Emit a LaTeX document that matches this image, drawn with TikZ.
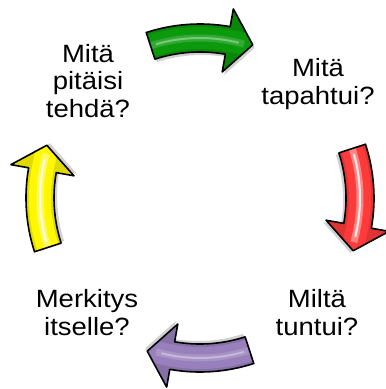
\documentclass[tikz,border=0pt]{standalone}
\usepackage{fontspec}
\setmainfont{Liberation Sans}
\newfontfamily\labelfont[FakeStretch=1.1]{Liberation Sans}
\begin{document}
\begin{tikzpicture}[x=1pt,y=1pt,
  label/.style={align=center, inner sep=0pt, anchor=base,
    font=\labelfont\fontsize{25}{27.5}\selectfont},
  outline/.style={draw=black, line width=1.6pt, line join=round}]
\definecolor{cgreen}{RGB}{12,154,12}
\definecolor{cred}{RGB}{255,58,58}
\definecolor{cpurple}{RGB}{152,128,188}
\definecolor{cyellow}{RGB}{255,248,0}

\useasboundingbox (0,0) rectangle (386,-389);
\clip (0,0) rectangle (386,-389);

% one glossy curved arrow of the cycle:
% #1 = direction angle, #2 = colour, #3 = strength of the highlight stripe
\newcommand\cyclearrow[3]{%
  \begin{scope}[shift={(200,-198)}, rotate=#1]
    \def\arrowpath{(108:174) arc[start angle=108,end angle=80,radius=174]
      -- (80:192) -- (71:162) -- (80:128) -- (80:146)
      arc[start angle=80,end angle=108,radius=146] -- cycle}
    % soft shadow
    \fill[black, opacity=0.18, shift={(2,-3)}] \arrowpath;
    \begin{scope}
      \clip \arrowpath;
      \fill[#2!88!black] \arrowpath;
      \draw[#2, line width=22pt] (112:160) arc[start angle=112,end angle=66,radius=160];
      \draw[white, opacity=#3*0.45, line width=7pt] (110:160) arc[start angle=110,end angle=74,radius=160];
      \draw[white, opacity=#3, line width=2pt] (106:160) arc[start angle=106,end angle=76,radius=160];
    \end{scope}
    \draw[outline] \arrowpath;
  \end{scope}}

\cyclearrow{0}{cgreen}{0.35}
\cyclearrow{-90}{cred}{0.85}
\cyclearrow{180}{cpurple}{0.35}
\cyclearrow{90}{cyellow}{0.85}

\node[label] (todo) at (88,-117) {Mitä\\pitäisi\\tehdä?};
\node[label] (what) at (318,-104) {Mitä\\tapahtui?};
\node[label] (feel) at (317,-335) {Miltä\\tuntui?};
\node[label] (mean) at (87,-335) {Merkitys\\itselle?};
\end{tikzpicture}
\end{document}
